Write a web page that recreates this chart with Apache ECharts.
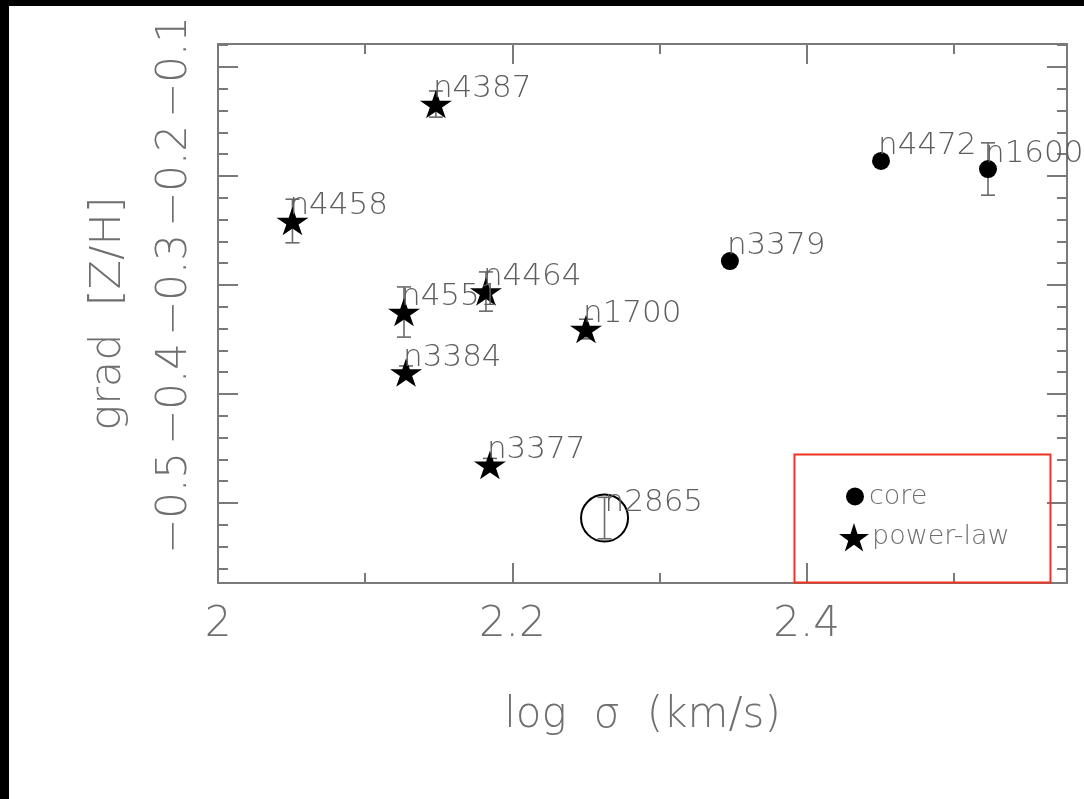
<!DOCTYPE html>
<html><head><meta charset="utf-8">
<script src="https://cdn.jsdelivr.net/npm/echarts@6/dist/echarts.min.js"></script>
<style>
html,body{margin:0;padding:0;background:#000;width:1084px;height:799px;overflow:hidden}
#chart{position:absolute;left:9px;top:6px;width:1075px;height:793px;background:#fff}
</style></head><body><div id="chart"></div>
<script>
// ---- data ----
const galaxyNames = ['n4387','n4458','n4551','n4464','n1700','n3384','n3377','n3379','n4472','n1600','n2865'];
const logSigma    = [2.1481, 2.0506, 2.1264, 2.1821, 2.2501, 2.1278, 2.1848, 2.3479, 2.4506, 2.5233, 2.2627];
const gradZH      = [-0.134, -0.2413, -0.3248, -0.306, -0.3404, -0.3803, -0.4651, -0.278, -0.1862, -0.1936, -0.5138];
const gradErr     = [0.012, 0.020, 0.023, 0.018, 0.009, 0.006, 0.006, 0, 0, 0.024, 0.019];
const profileType = ['power-law','power-law','power-law','power-law','power-law','power-law','power-law','core','core','core','other'];

const xMajorTicks = [2, 2.2, 2.4];
const xTickLabels = ['2', '2.2', '2.4'];
const xMinorTicks = [2.1, 2.3, 2.5];
const yMajorTicks = [-0.5, -0.4, -0.3, -0.2, -0.1];
const yTickLabels = ['−0.5', '−0.4', '−0.3', '−0.2', '−0.1'];
const yMinorTicks = [-0.56,-0.54,-0.52,-0.48,-0.46,-0.44,-0.42,-0.38,-0.36,-0.34,-0.32,-0.28,-0.26,-0.24,-0.22,-0.18,-0.16,-0.14,-0.12,-0.08];

const xRange = [2, 2.577];
const yRange = [-0.5734, -0.0789];

// ---- styling ----
const FONT = "'DejaVu Sans', sans-serif";
const AXIS_COLOR = '#7a7a7a';
const TEXT_COLOR = '#6f6f6f';
const STAR = 'path://M100,0 L122.45,69.1 L195.1,69.1 L136.33,111.8 L158.78,180.9 L100,138.2 L41.22,180.9 L63.67,111.8 L4.9,69.1 L77.55,69.1 Z';

function pick(type) {
  const out = [];
  galaxyNames.forEach((n, i) => { if (profileType[i] === type) out.push({ name: n, value: [logSigma[i], gradZH[i]] }); });
  return out;
}
const errData = galaxyNames.map((n, i) => [logSigma[i], gradZH[i], gradErr[i]]);

function lbl(v, ticks, labels) {
  const i = ticks.findIndex(t => Math.abs(t - v) < 1e-6);
  return i >= 0 ? labels[i] : '';
}

const lineStyle = { color: AXIS_COLOR, width: 2 };
function xAx(pos, ticks, len, extra) {
  return Object.assign({
    type: 'value', position: pos, min: xRange[0], max: xRange[1],
    axisLine: { show: true, onZero: false, lineStyle },
    axisTick: { show: true, inside: true, length: len, customValues: ticks, lineStyle },
    axisLabel: { show: false },
    splitLine: { show: false }
  }, extra || {});
}
function yAx(pos, ticks, len, extra) {
  return Object.assign({
    type: 'value', position: pos, min: yRange[0], max: yRange[1],
    axisLine: { show: true, onZero: false, lineStyle },
    axisTick: { show: true, inside: true, length: len, customValues: ticks, lineStyle },
    axisLabel: { show: false },
    splitLine: { show: false }
  }, extra || {});
}

const dataLabel = {
  show: true, position: 'inside', align: 'left', verticalAlign: 'middle',
  offset: [-3, -15], formatter: '{b}', color: '#5e5e5e',
  fontFamily: FONT, fontWeight: 200, fontSize: 31
};

const chart = echarts.init(document.getElementById('chart'));
chart.setOption({
  animation: false,
  backgroundColor: '#fff',
  grid: { left: 209, top: 38, right: 17, bottom: 216, containLabel: false, outerBoundsMode: 'none' },
  xAxis: [
    xAx('bottom', xMajorTicks, 20, {
      axisLabel: { show: true, customValues: xMajorTicks, formatter: v => lbl(v, xMajorTicks, xTickLabels),
        fontFamily: FONT, fontWeight: 200, fontSize: 42, color: TEXT_COLOR, margin: 21 },
      name: 'log  σ  (km/s)', nameLocation: 'middle', nameGap: 112, nameMoveOverlap: false,
      nameTextStyle: { fontFamily: FONT, fontWeight: 200, fontSize: 42, color: TEXT_COLOR }
    }),
    xAx('bottom', xMinorTicks, 10, { axisLine: { show: false } }),
    xAx('top', xMajorTicks, 20),
    xAx('top', xMinorTicks, 10, { axisLine: { show: false } })
  ],
  yAxis: [
    yAx('left', yMajorTicks, 20, {
      axisLabel: { show: true, customValues: yMajorTicks, formatter: v => lbl(v, yMajorTicks, yTickLabels),
        rotate: 90, fontFamily: FONT, fontWeight: 200, fontSize: 42, color: TEXT_COLOR, margin: 22 },
      name: 'grad  [Z/H]', nameLocation: 'middle', nameRotate: 90, nameGap: 88, nameMoveOverlap: false,
      nameTextStyle: { fontFamily: FONT, fontWeight: 200, fontSize: 43, color: TEXT_COLOR }
    }),
    yAx('left', yMinorTicks, 10, { axisLine: { show: false } }),
    yAx('right', yMajorTicks, 20),
    yAx('right', yMinorTicks, 10, { axisLine: { show: false } })
  ],
  legend: [
    { data: [{ name: 'core', icon: 'circle' }], orient: 'vertical', left: 837, top: 477, padding: 0,
      itemWidth: 18, itemHeight: 18, itemGap: 0, selectedMode: false,
      textStyle: { fontFamily: FONT, fontWeight: 200, fontSize: 27, color: '#6e6e6e', padding: [0,0,4,0] } },
    { data: [{ name: 'power-law', icon: STAR }], orient: 'vertical', left: 830, top: 517, padding: 0,
      itemWidth: 30, itemHeight: 30, itemGap: 0, selectedMode: false,
      textStyle: { fontFamily: FONT, fontWeight: 200, fontSize: 27, color: '#6e6e6e', padding: [6,0,0,-2] } }
  ],
  graphic: [
    { type: 'rect', left: 783, top: 446, z: 100, silent: true,
      shape: { width: 256, height: 128 }, style: { fill: 'none', stroke: '#ee3322', lineWidth: 2 } }
  ],
  series: [
    {
      type: 'custom', name: 'errors', xAxisIndex: 0, yAxisIndex: 0, z: 5, silent: true,
      data: errData,
      encode: { x: 0, y: 1 },
      renderItem: function (params, api) {
        const x = api.value(0), y = api.value(1), e = api.value(2);
        if (!e) return null;
        const t = api.coord([x, y + e]);
        const b = api.coord([x, y - e]);
        const s = { stroke: '#6a6a6a', lineWidth: 1.6 };
        return { type: 'group', z2: 0, children: [
          { type: 'line', shape: { x1: t[0], y1: t[1], x2: b[0], y2: b[1] }, style: s },
          { type: 'line', shape: { x1: t[0] - 7, y1: t[1], x2: t[0] + 7, y2: t[1] }, style: s },
          { type: 'line', shape: { x1: b[0] - 7, y1: b[1], x2: b[0] + 7, y2: b[1] }, style: s }
        ] };
      }
    },
    {
      type: 'scatter', name: 'power-law', xAxisIndex: 0, yAxisIndex: 0, z: 6,
      symbol: STAR, symbolSize: [32, 30], symbolKeepAspect: true,
      itemStyle: { color: '#000', opacity: 1 }, label: dataLabel,
      data: pick('power-law')
    },
    {
      type: 'scatter', name: 'core', xAxisIndex: 0, yAxisIndex: 0, z: 6,
      symbol: 'circle', symbolSize: 18,
      itemStyle: { color: '#000', opacity: 1 }, label: dataLabel,
      data: pick('core')
    },
    {
      type: 'scatter', name: 'other', xAxisIndex: 0, yAxisIndex: 0, z: 4,
      symbol: 'circle', symbolSize: 47,
      itemStyle: { color: 'rgba(0,0,0,0)', borderColor: '#000', borderWidth: 2, opacity: 1 },
      label: Object.assign({}, dataLabel, { offset: [0, -15] }),
      data: pick('other')
    }
  ]
});
</script></body></html>
